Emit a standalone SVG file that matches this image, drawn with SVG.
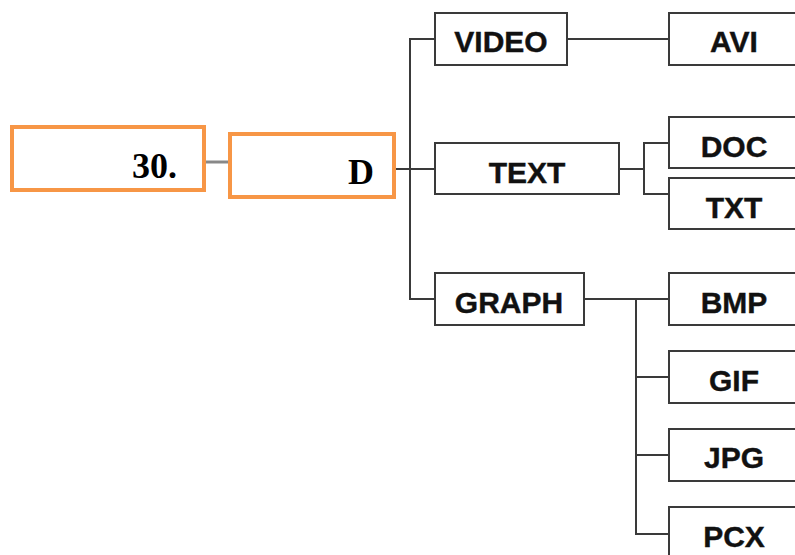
<svg xmlns="http://www.w3.org/2000/svg" width="795" height="555" viewBox="0 0 795 555">
<style>
.box{fill:#fff;stroke:#3a3a3a;stroke-width:2}
.obox{fill:#fff;stroke:#F79646;stroke-width:4}
.lbl{font-family:"Liberation Sans",Arial,sans-serif;font-weight:bold;font-size:30px;fill:#111;text-anchor:middle;stroke:#111;stroke-width:0.4}
.ser{font-family:"Liberation Serif","Times New Roman",serif;font-weight:bold;font-size:36px;fill:#000;text-anchor:end}
.ln{fill:none;stroke:#3a3a3a;stroke-width:2}
.gl{fill:none;stroke:#888;stroke-width:3}
</style>
<rect width="795" height="555" fill="#fff"/>
<g id="connectors">
<line class="gl" x1="205" y1="162" x2="229" y2="162"/>
<line class="ln" x1="394" y1="169" x2="435" y2="169"/>
<polyline class="ln" points="435,39 410,39 410,299 435,299"/>
<line class="ln" x1="567" y1="39" x2="669" y2="39"/>
<line class="ln" x1="619" y1="169" x2="644" y2="169"/>
<polyline class="ln" points="669,143 644,143 644,194 669,194"/>
<line class="ln" x1="584" y1="299" x2="669" y2="299"/>
<polyline class="ln" points="636,299 636,534 669,534"/>
<line class="ln" x1="636" y1="377" x2="669" y2="377"/>
<line class="ln" x1="636" y1="455" x2="669" y2="455"/>
</g>
<g id="n30"><rect class="obox" x="12" y="127" width="192" height="63"/><text class="ser" x="177" y="178">30.</text></g>
<g id="nD"><rect class="obox" x="230" y="134" width="164" height="63"/><text class="ser" x="374" y="184">D</text></g>
<g id="video"><rect class="box" x="435" y="13" width="132" height="52"/><text class="lbl" x="501" y="52">VIDEO</text></g>
<g id="text"><rect class="box" x="435" y="143" width="184" height="51"/><text class="lbl" x="527" y="183">TEXT</text></g>
<g id="graph"><rect class="box" x="435" y="273" width="149" height="52"/><text class="lbl" x="509" y="313">GRAPH</text></g>
<g id="avi"><rect class="box" x="669" y="13" width="132" height="52"/><text class="lbl" x="734" y="52">AVI</text></g>
<g id="doc"><rect class="box" x="669" y="117" width="132" height="51"/><text class="lbl" x="734" y="157">DOC</text></g>
<g id="txt"><rect class="box" x="669" y="178" width="132" height="51"/><text class="lbl" x="734" y="218">TXT</text></g>
<g id="bmp"><rect class="box" x="669" y="273" width="132" height="52"/><text class="lbl" x="734" y="313">BMP</text></g>
<g id="gif"><rect class="box" x="669" y="351" width="132" height="52"/><text class="lbl" x="734" y="391">GIF</text></g>
<g id="jpg"><rect class="box" x="669" y="429" width="132" height="52"/><text class="lbl" x="734" y="468">JPG</text></g>
<g id="pcx"><rect class="box" x="669" y="507" width="132" height="52"/><text class="lbl" x="734" y="547">PCX</text></g>
</svg>
